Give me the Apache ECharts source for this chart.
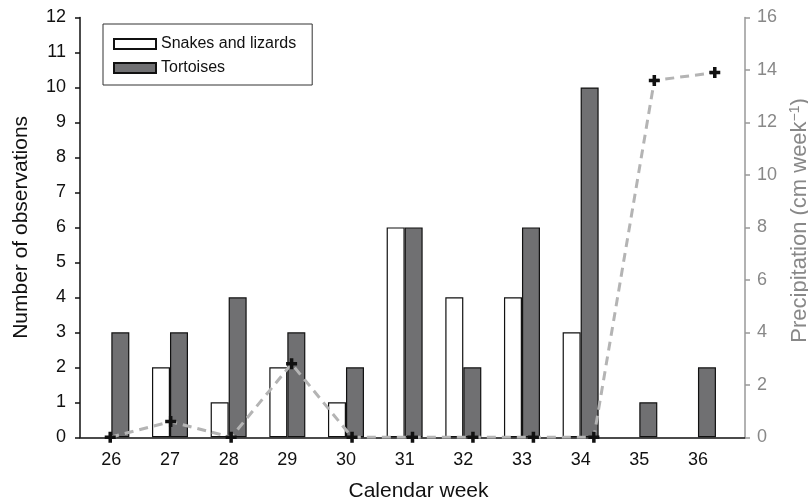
<!DOCTYPE html>
<html><head><meta charset="utf-8">
<script src="https://cdn.jsdelivr.net/npm/echarts@6/dist/echarts.min.js"></script>
<style>html,body{margin:0;padding:0;background:#fff}#c{width:808px;height:501px}</style>
</head><body><div id="c"></div>
<script>
const weeks = ['26','27','28','29','30','31','32','33','34','35','36'];
const snakesLizards = [0,2,1,2,1,6,4,4,3,0,0];
const tortoises = [3,3,4,3,2,6,2,6,10,1,2];
const precipitation = [0,0.6,0,2.8,0,0,0,0,0,13.6,13.9];
const leftTicks = {min:0, max:12, interval:1};
const rightTicks = {min:0, max:16, interval:2};

const font = '"Liberation Sans", Arial, Helvetica, sans-serif';
const toBarData = arr => arr.map(v => v === 0 ? {value:v, itemStyle:{borderWidth:0}} : v);
const chart = echarts.init(document.getElementById('c'));
chart.setOption({
  backgroundColor:'#fff',
  animation:false,
  textStyle:{fontFamily:font},
  legend:{
    orient:'vertical', left:103, top:24,
    padding:[11,16,8,10], itemGap:6,
    borderColor:'#333', borderWidth:1,
    itemWidth:42, itemHeight:10, icon:'rect',
    textStyle:{fontSize:16, color:'#111', fontFamily:font, padding:[0,0,0,0], lineHeight:18},
    data:['Snakes and lizards','Tortoises']
  },
  grid:[
    {left:82, right:80.7, top:17.5, bottom:63.7, outerBoundsMode:'none', containLabel:false},
    {left:80, right:63, top:17.5, bottom:63.7, outerBoundsMode:'none', containLabel:false}
  ],
  xAxis:[
    {type:'category', gridIndex:0, data:weeks, axisLine:{show:false}, axisTick:{show:false},
     axisLabel:{fontSize:18, color:'#111', margin:14, fontFamily:font}},
    {type:'category', gridIndex:1, data:weeks, boundaryGap:true,
     axisLine:{lineStyle:{color:'#111', width:1.5}}, axisTick:{show:false}, axisLabel:{show:false},
     name:'Calendar week', nameLocation:'middle', nameGap:43,
     nameTextStyle:{fontSize:21, color:'#111', fontFamily:font, padding:[0,0,0,12]}}
  ],
  yAxis:[
    {type:'value', gridIndex:0, min:leftTicks.min, max:leftTicks.max, interval:leftTicks.interval, show:false, splitLine:{show:false}},
    {type:'value', gridIndex:1, position:'left', min:leftTicks.min, max:leftTicks.max, interval:leftTicks.interval,
     axisLine:{show:true, lineStyle:{color:'#111', width:1.5}},
     axisTick:{show:true, inside:false, length:5, lineStyle:{color:'#111', width:1.5}},
     axisLabel:{fontSize:18, color:'#111', margin:14, fontFamily:font},
     splitLine:{show:false},
     name:'Number of observations', nameLocation:'middle', nameGap:48, nameRotate:90,
     nameTextStyle:{fontSize:21, color:'#111', fontFamily:font}},
    {type:'value', gridIndex:1, position:'right', min:rightTicks.min, max:rightTicks.max, interval:rightTicks.interval,
     axisLine:{show:true, lineStyle:{color:'#999', width:1.5}},
     axisTick:{show:true, inside:false, length:5, lineStyle:{color:'#999', width:1.5}},
     axisLabel:{fontSize:18, color:'#888', margin:12, fontFamily:font},
     splitLine:{show:false},
     name:'{a|Precipitation (cm week}{s|−1}{a|)}', nameLocation:'middle', nameGap:39, nameRotate:90,
     nameTextStyle:{color:'#888', fontFamily:font, padding:[0,0,0,14], rich:{
       a:{fontSize:22, color:'#888', fontFamily:font},
       s:{fontSize:14, color:'#888', fontFamily:font, verticalAlign:'top', padding:[0,0,10,0]}
     }}}
  ],
  series:[
    {name:'Snakes and lizards', type:'bar', xAxisIndex:0, yAxisIndex:0, data:toBarData(snakesLizards),
     barWidth:18, barGap:'0%', itemStyle:{color:'#ffffff', borderColor:'#111', borderWidth:1.2}},
    {name:'Tortoises', type:'bar', xAxisIndex:0, yAxisIndex:0, data:toBarData(tortoises),
     barWidth:18, barGap:'0%', itemStyle:{color:'#707072', borderColor:'#111', borderWidth:1.2}},
    {name:'Precipitation', type:'line', xAxisIndex:1, yAxisIndex:2, data:precipitation, z:5,
     symbol:'path://M3.4,0H6.6V3.4H10V6.6H6.6V10H3.4V6.6H0V3.4H3.4Z', symbolSize:11,
     itemStyle:{color:'#111'},
     lineStyle:{color:'#b4b4b4', width:3, type:[9,6]}}
  ]
});
</script></body></html>
